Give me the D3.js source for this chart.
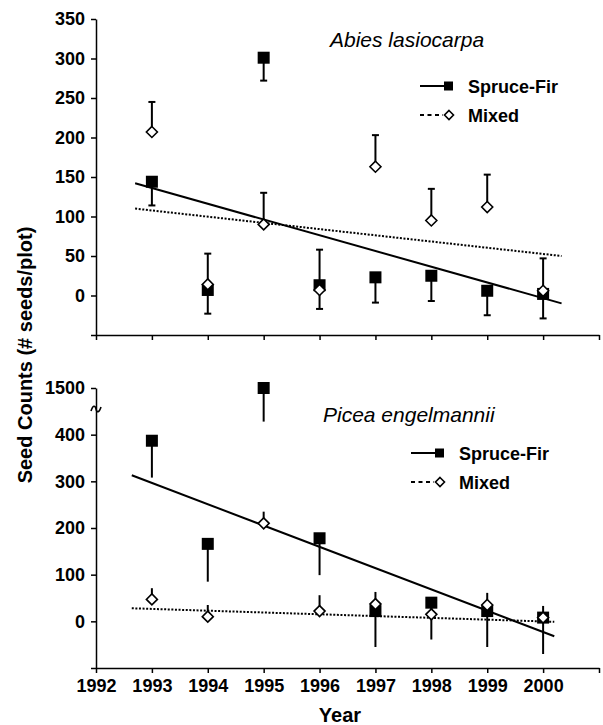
<!DOCTYPE html>
<html>
<head>
<meta charset="utf-8">
<script src="https://cdn.jsdelivr.net/npm/d3@7"></script>
<style>
  body { margin: 0; background: #fff; }
  svg { display: block; font-family: "Liberation Sans", Arial, sans-serif; }
  .axis path, .axis line { stroke: #000; stroke-width: 1.5; }
  .axis text { font-size: 18px; font-weight: bold; fill: #000; }
</style>
</head>
<body>
<svg id="chart" width="603" height="725"></svg>
<script>
// Years sampled, and axis years
var years = [1993, 1994, 1995, 1996, 1997, 1998, 1999, 2000];
var axisYears = [1992, 1993, 1994, 1995, 1996, 1997, 1998, 1999, 2000, 2001];

// Abies lasiocarpa (top panel)
var abiesSpruce = [144, 7, 301, 13, 23, 25, 6, 2];
var abiesSpruceLow = [114, -23, 272, -17, -9, -7, -25, -29];
var abiesMixed = [207, 14, 90, 7, 163, 95, 112, 6];
var abiesMixedHigh = [245, 53, 130, 58, 203, 135, 153, 47];
var abiesTrendYears = [1992.7, 2000.33];
var abiesSpruceTrend = [142, -10];
var abiesMixedTrend = [110, 50];
var abiesTicks = [-50, 0, 50, 100, 150, 200, 250, 300, 350];

// Picea engelmannii (bottom panel, axis broken above 400)
var piceaSpruce = [387, 166, 1500, 178, 22, 40, 22, 8];
var piceaSpruceLow = [308, 85, 1428, 99, -55, -39, -55, -70];
var piceaMixed = [47, 10, 210, 22, 37, 15, 35, 8];
var piceaMixedHigh = [71, 35, 235, 56, 63, 35, 61, 33];
var piceaTrendYears = [1992.64, 2000.2];
var piceaSpruceTrend = [313, -32];
var piceaMixedTrend = [28, -1];
var piceaTicks = [-100, 0, 100, 200, 300, 400, 1500];

var svg = d3.select('#chart');

var x = d3.scaleLinear().domain([1992, 2001]).range([96, 599]);

function drawPanel(opts) {
  var g = svg.append('g');
  var y = opts.y;

  // y axis
  g.append('g')
    .attr('class', 'axis')
    .attr('transform', 'translate(' + x(1992) + ',0)')
    .call(d3.axisLeft(y.scale).tickValues(opts.ticks).tickSize(5).tickSizeOuter(0).tickPadding(6)
      .tickFormat(function(d) { return d === opts.ticks[0] ? '' : d; }));

  // x axis
  g.append('g')
    .attr('class', 'axis')
    .attr('transform', 'translate(0,' + y(opts.ticks[0]) + ')')
    .call(d3.axisBottom(x).tickValues(axisYears).tickSize(5).tickSizeOuter(0).tickPadding(6)
      .tickFormat(function(d) { return (opts.xLabels && d < 2001) ? d : ''; }));

  // trend lines
  var line = d3.line().x(function(d) { return x(d[0]); }).y(function(d) { return y(d[1]); });
  g.append('path')
    .datum(d3.zip(opts.trendYears, opts.spruceTrend))
    .attr('d', line).attr('fill', 'none').attr('stroke', '#000').attr('stroke-width', 2);
  g.append('path')
    .datum(d3.zip(opts.trendYears, opts.mixedTrend))
    .attr('d', line).attr('fill', 'none').attr('stroke', '#000').attr('stroke-width', 2)
    .attr('stroke-dasharray', '2,1.6');

  var cap = opts.cap;

  // Spruce-Fir: error bars down, filled squares
  var sf = g.append('g');
  years.forEach(function(yr, i) {
    var cx = x(yr);
    sf.append('line').attr('x1', cx).attr('x2', cx)
      .attr('y1', y(opts.spruce[i])).attr('y2', y(opts.spruceLow[i]))
      .attr('stroke', '#000').attr('stroke-width', 2);
    if (cap) {
      sf.append('line').attr('x1', cx - cap / 2).attr('x2', cx + cap / 2)
        .attr('y1', y(opts.spruceLow[i])).attr('y2', y(opts.spruceLow[i]))
        .attr('stroke', '#000').attr('stroke-width', 2);
    }
    sf.append('rect').attr('x', cx - 6).attr('y', y(opts.spruce[i]) - 6)
      .attr('width', 12).attr('height', 12).attr('fill', '#000');
  });

  // Mixed: error bars up, open diamonds
  var mx = g.append('g');
  years.forEach(function(yr, i) {
    var cx = x(yr);
    mx.append('line').attr('x1', cx).attr('x2', cx)
      .attr('y1', y(opts.mixed[i])).attr('y2', y(opts.mixedHigh[i]))
      .attr('stroke', '#000').attr('stroke-width', 2);
    if (cap) {
      mx.append('line').attr('x1', cx - cap / 2).attr('x2', cx + cap / 2)
        .attr('y1', y(opts.mixedHigh[i])).attr('y2', y(opts.mixedHigh[i]))
        .attr('stroke', '#000').attr('stroke-width', 2);
    }
    var cy = y(opts.mixed[i]);
    mx.append('path')
      .attr('d', 'M' + cx + ',' + (cy - 5.5) + 'L' + (cx + 5.5) + ',' + cy + 'L' + cx + ',' + (cy + 5.5) + 'L' + (cx - 5.5) + ',' + cy + 'Z')
      .attr('fill', '#fff').attr('stroke', '#000').attr('stroke-width', 1.6);
  });

  // title
  g.append('text')
    .attr('x', opts.titleX).attr('y', opts.titleY)
    .style('font-size', '21px').style('font-style', 'italic')
    .text(opts.title);

  // legend
  var lg = g.append('g').attr('transform', 'translate(' + opts.legendX + ',' + opts.legendY + ')');
  lg.append('line').attr('x1', 0).attr('x2', 26).attr('y1', 0).attr('y2', 0)
    .attr('stroke', '#000').attr('stroke-width', 2);
  lg.append('rect').attr('x', 24).attr('y', -4.5).attr('width', 9).attr('height', 9).attr('fill', '#000');
  lg.append('text').attr('x', 48).attr('y', 6.5)
    .style('font-size', '18px').style('font-weight', 'bold').text('Spruce-Fir');
  lg.append('line').attr('x1', 0).attr('x2', 23).attr('y1', 29).attr('y2', 29)
    .attr('stroke', '#000').attr('stroke-width', 2).attr('stroke-dasharray', '4,3.5');
  lg.append('path')
    .attr('d', 'M29,24.5L33.5,29L29,33.5L24.5,29Z')
    .attr('fill', '#fff').attr('stroke', '#000').attr('stroke-width', 1.6);
  lg.append('text').attr('x', 48).attr('y', 35.5)
    .style('font-size', '18px').style('font-weight', 'bold').text('Mixed');
}

// top panel scale
var yTop = d3.scaleLinear().domain([-50, 350]).range([335, 19]);
var topY = function(v) { return yTop(v); };
topY.scale = yTop;

drawPanel({
  y: topY, ticks: abiesTicks, xLabels: false, cap: 7,
  spruce: abiesSpruce, spruceLow: abiesSpruceLow,
  mixed: abiesMixed, mixedHigh: abiesMixedHigh,
  trendYears: abiesTrendYears, spruceTrend: abiesSpruceTrend, mixedTrend: abiesMixedTrend,
  title: 'Abies lasiocarpa', titleX: 330, titleY: 46.5,
  legendX: 420, legendY: 86
});

// bottom panel: broken axis, values above the break are shifted down by 1000
var yBotLin = d3.scaleLinear().domain([-100, 500]).range([668, 388]);
var botY = function(v) { return yBotLin(v > 450 ? v - 1000 : v); };
var botAxisScale = function(v) { return botY(v); };
botAxisScale.copy = function() { return botAxisScale; };
botAxisScale.domain = function() { return [-100, 1500]; };
botAxisScale.range = function() { return [668, 388]; };
botY.scale = botAxisScale;

drawPanel({
  y: botY, ticks: piceaTicks, xLabels: true, cap: 0,
  spruce: piceaSpruce, spruceLow: piceaSpruceLow,
  mixed: piceaMixed, mixedHigh: piceaMixedHigh,
  trendYears: piceaTrendYears, spruceTrend: piceaSpruceTrend, mixedTrend: piceaMixedTrend,
  title: 'Picea engelmannii', titleX: 323, titleY: 421.5,
  legendX: 411, legendY: 453
});

// axis break mark
svg.append('path')
  .attr('d', 'M91,411 C93,405 95,405 96,409 C97,413 99,413 101,407')
  .attr('fill', 'none').attr('stroke', '#000').attr('stroke-width', 1.6);

// axis titles
svg.append('text')
  .attr('transform', 'translate(32,355) rotate(-90)')
  .attr('text-anchor', 'middle')
  .style('font-size', '20px').style('font-weight', 'bold')
  .text('Seed Counts (# seeds/plot)');

svg.append('text')
  .attr('x', 340).attr('y', 722)
  .attr('text-anchor', 'middle')
  .style('font-size', '20px').style('font-weight', 'bold')
  .text('Year');
</script>
</body>
</html>
